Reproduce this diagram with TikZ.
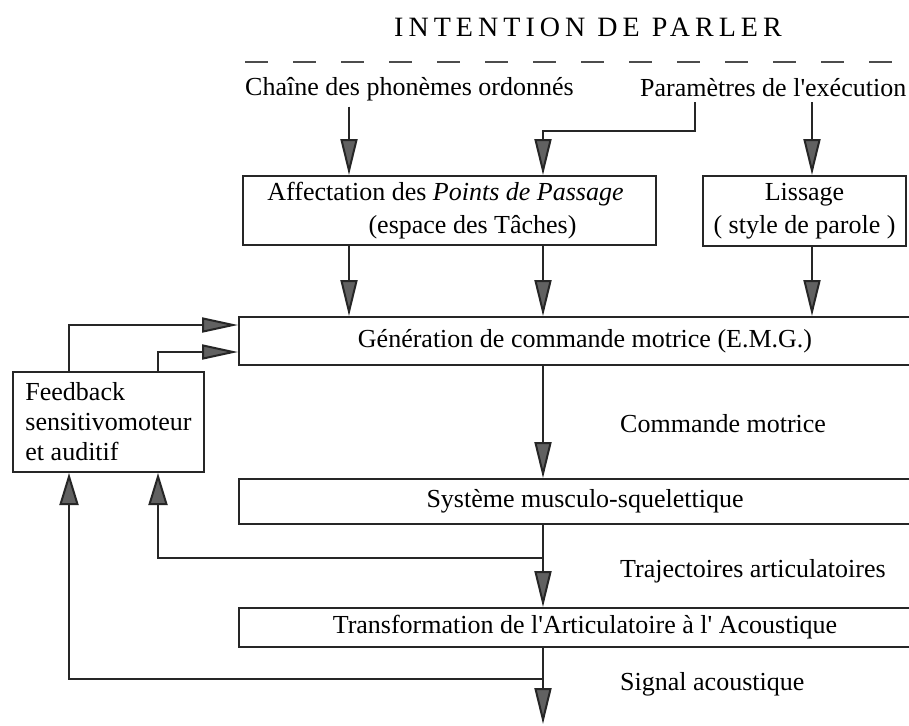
\documentclass[tikz,border=0pt]{standalone}
\usepackage{fontspec}
\setmainfont{Liberation Serif}
\usetikzlibrary{arrows.meta}
\newcommand{\ap}{\textquotesingle}
\begin{document}
\begin{tikzpicture}[x=1pt,y=-1pt,
  every node/.style={font=\fontsize{26}{33}\selectfont, text=black},
  txt/.style={inner sep=6pt},
  box/.style={draw=black!85, line width=2pt, inner sep=0pt, fill=white},
  wide/.style={box, minimum width=692pt},
  flow/.style={draw=black!85, line width=2pt,
    -{Triangle[length=36pt,width=17pt,fill=black!62]}},
  back/.style={draw=black!85, line width=2pt,
    -{Triangle[length=32pt,width=19pt,fill=black!62]}},
  feed/.style={draw=black!85, line width=2pt,
    -{Triangle[length=36pt,width=15pt,fill=black!62]}},
  dashline/.style={draw=black!70, line width=2pt, dash pattern=on 23pt off 25pt}
]
\useasboundingbox (0,0) rectangle (909,725);
\fill[white] (0,0) rectangle (909,725);
\clip (0,0) rectangle (909,725);

% column positions of the vertical connectors
\coordinate (c1) at (349,0);
\coordinate (c2) at (543,0);
\coordinate (c3) at (812,0);
\coordinate (pbend) at (695,131);
\coordinate (f1) at (69,0);
\coordinate (f2) at (158,0);
\coordinate (g1) at (0,325);
\coordinate (g2) at (0,352);
\coordinate (t1) at (543,558);
\coordinate (t2) at (543,679);
\coordinate (out) at (543,724);

% heading
\node[inner sep=0pt, anchor=base] (title) at (588,37)
  {\fontsize{28}{33}\selectfont\addfontfeatures{LetterSpace=18}INTENTION DE PARLER};
\coordinate (d0) at (245,62);
\coordinate (d1) at (895,62);
\draw[dashline] (d0) -- (d1);

% inputs
\node[txt, anchor=base west] (chaine) at (239,95) {Chaîne des phonèmes ordonnés};
\node[txt, anchor=base west] (param) at (634,96) {Paramètres de l\ap exécution};

% planning boxes
\node[box, minimum width=413pt, minimum height=69pt, align=center] (aff) at (449.5,210.5)
  {\hspace*{-8pt}Affectation des \textit{Points de Passage}\\\hspace*{46pt}(espace des Tâches)};
\node[box, minimum width=203pt, minimum height=70pt, align=center] (liss) at (804.5,211)
  {Lissage\\( style de parole )};

% main chain
\node[wide, minimum height=48pt] (gen) at (585,341) {Génération de commande motrice (E.M.G.)};
\node[wide, minimum height=45pt] (sys) at (585,501.5) {Système musculo-squelettique};
\node[wide, minimum height=39pt] (tra) at (585,627.5) {Transformation de l\ap Articulatoire à l\ap{} Acoustique};

% feedback box
\node[box, minimum width=191pt, minimum height=100pt, align=left,
      font=\fontsize{26}{30}\selectfont] (fb) at (108.5,422)
  {Feedback\\sensitivomoteur\\et auditif};

% signal labels
\node[inner sep=0pt, anchor=base west] (lcmd) at (620,432) {Commande motrice};
\node[inner sep=0pt, anchor=base west] (ltraj) at (620,577) {Trajectoires articulatoires};
\node[inner sep=0pt, anchor=base west] (lsig) at (620,690) {Signal acoustique};

% connectors from the inputs
\draw[flow] (chaine.south -| c1) -- (aff.north -| c1);
\draw[flow] (param.south -| pbend) -- (pbend) -| (aff.north -| c2);
\draw[flow] (param.south -| c3) -- (liss.north -| c3);

% into the motor command generation
\draw[flow] (aff.south -| c1) -- (gen.north -| c1);
\draw[flow] (aff.south -| c2) -- (gen.north -| c2);
\draw[flow] (liss.south -| c3) -- (gen.north -| c3);

% main trunk
\draw[flow] (gen.south -| c2) -- (sys.north -| c2);
\draw[flow] (sys.south -| c2) -- (tra.north -| c2);
\draw[flow] (tra.south -| c2) -- (out);

% feedback loops
\draw[back] (t1) -| (fb.south -| f2);
\draw[back] (t2) -| (fb.south -| f1);
\draw[feed] (fb.north -| f1) |- (gen.west |- g1);
\draw[feed] (fb.north -| f2) |- (gen.west |- g2);
\end{tikzpicture}
\end{document}
